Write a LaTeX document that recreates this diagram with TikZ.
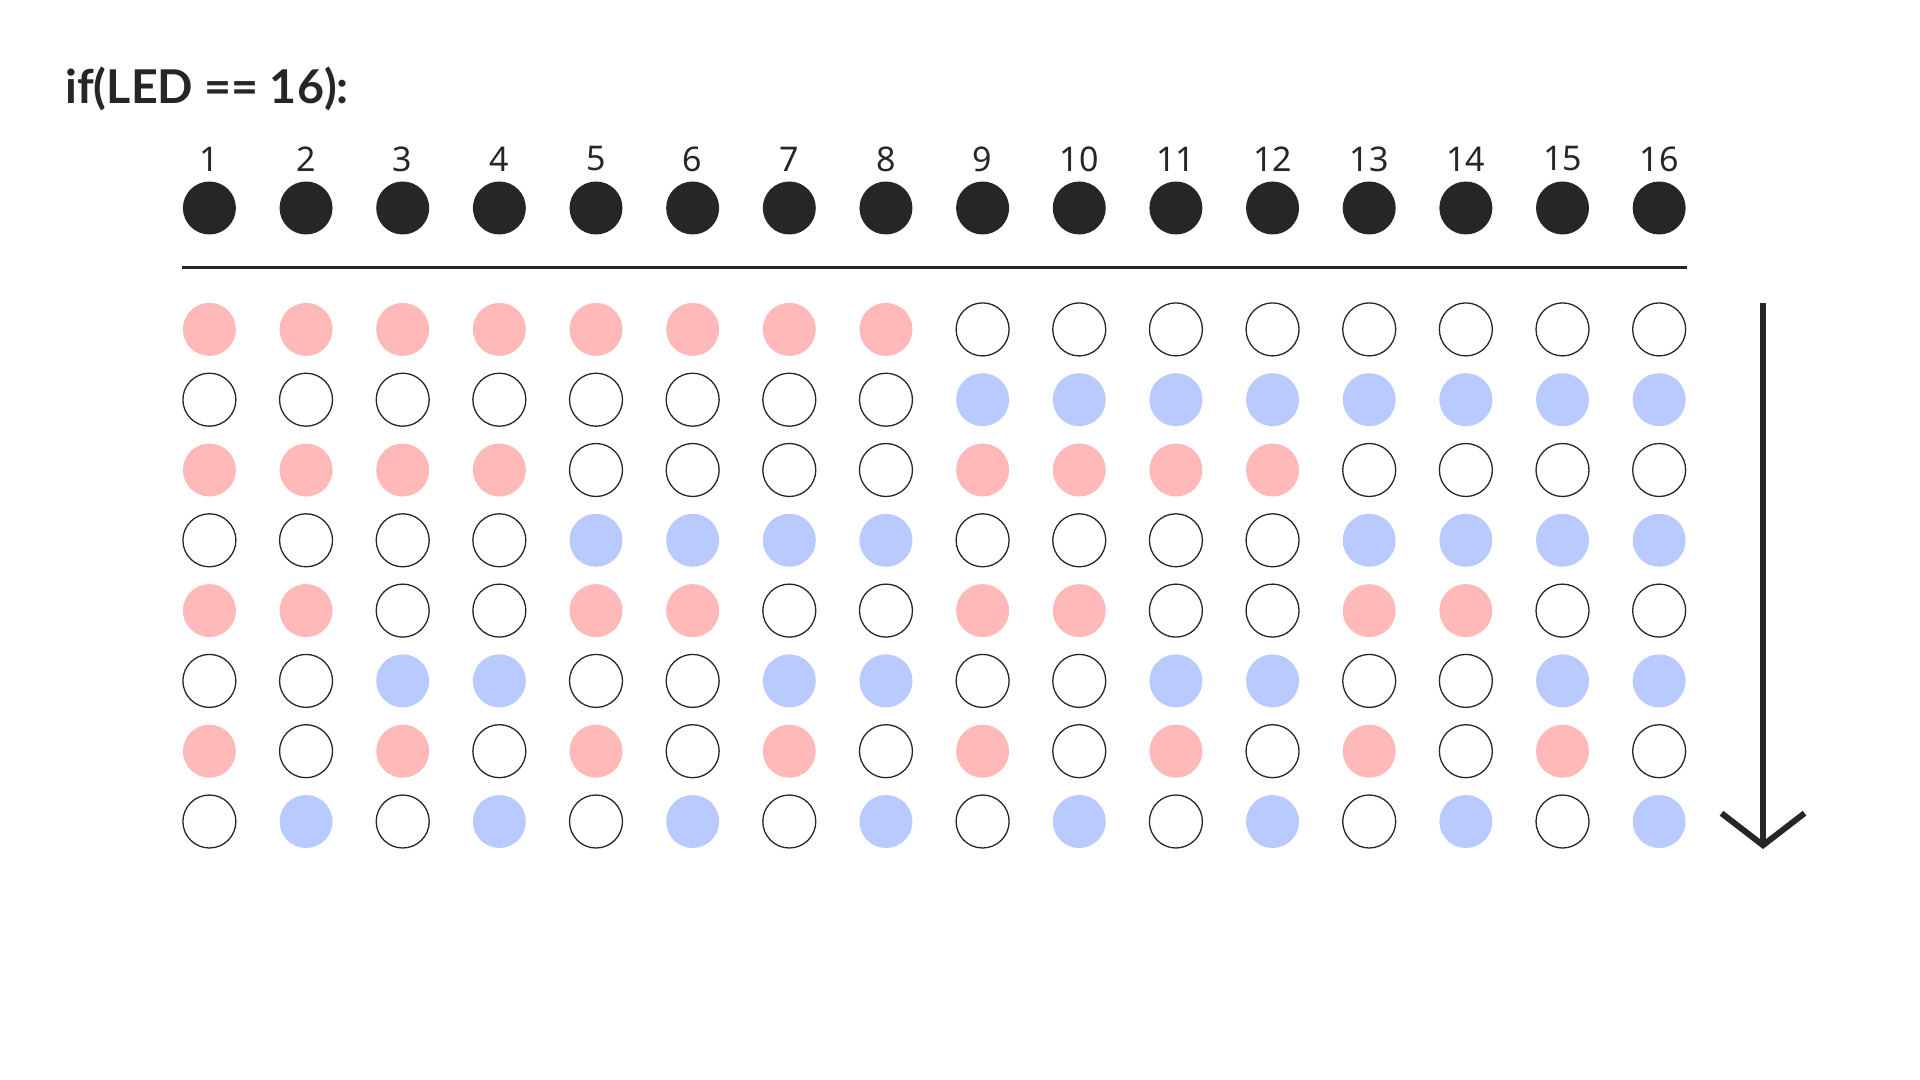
\documentclass[tikz,border=0pt]{standalone}
\usepackage{fontspec}
\setmainfont{Noto Sans}
\newfontfamily\titlefont{Lato}
\usetikzlibrary{arrows.meta,positioning}
\definecolor{LEDpink}{HTML}{FFB9B9}
\definecolor{LEDblue}{HTML}{B8CAFF}
\definecolor{LEDdark}{HTML}{262626}
\tikzset{
  led/base/.style={circle, inner sep=0pt, minimum size=26.5pt},
  led/head/.style={led/base, fill=LEDdark},
  led/num/.style={font=\fontsize{17}{17}\selectfont, text=LEDdark, inner sep=0pt},
  led/title/.style={font=\titlefont\bfseries\fontsize{23.3}{23.3}\selectfont, text=LEDdark, anchor=base west, inner sep=0pt},
  rule/.style={line width=1.5pt, LEDdark},
  arr/.style={-{Straight Barb[length=16pt,width=41.5pt]}, line width=3pt, LEDdark}
}

\begin{document}
\begin{tikzpicture}[x=0.5pt, y=-0.5pt]
  \useasboundingbox (0,0) rectangle (1920,1080);
  \node[led/title] (title) at (65,104) {if(LED == 16):};

  % header: all 16 LEDs on
  \foreach \c in {1,...,16} {
    \node[led/head] (h\c) at ({209.4+96.65*(\c-1)}, 208) {};
    \node[led/num] (n\c) at ({209.4+96.65*(\c-1)}, 159) {\c};
  }
  \coordinate (ruleL) at (182,268);
  \coordinate (ruleR) at (1687,268);
  \draw[rule] (ruleL) -- (ruleR);

  % steps: odd rows pink, even rows blue
  \foreach \r in {1,...,8} {
    \pgfmathtruncatemacro\lvl{(\r+1)/2}
    \pgfmathtruncatemacro\blk{16/2^\lvl}
    \pgfmathtruncatemacro\odd{mod(\r,2)}
    \ifnum\odd=1 \def\oncol{LEDpink}\else\def\oncol{LEDblue}\fi
    \foreach \c in {1,...,16} {
      \pgfmathtruncatemacro\grp{mod(floor((\c-1)/\blk),2)}
      \ifnum\grp=\odd
        \edef\ledfill{white}\edef\ledline{LEDdark}
      \else
        \edef\ledfill{\oncol}\edef\ledline{none}
      \fi
      \node[led/base, fill=\ledfill, draw=\ledline, line width=0.65pt]
        (g\r-\c) at ({209.4+96.65*(\c-1)}, {329.4+70.3*(\r-1)}) {};
    }
  }

  \coordinate (arrTop) at (1763,303);
  \coordinate (arrEnd) at (1763,849);
  \draw[arr] (arrTop) -- (arrEnd);
\end{tikzpicture}
\end{document}
